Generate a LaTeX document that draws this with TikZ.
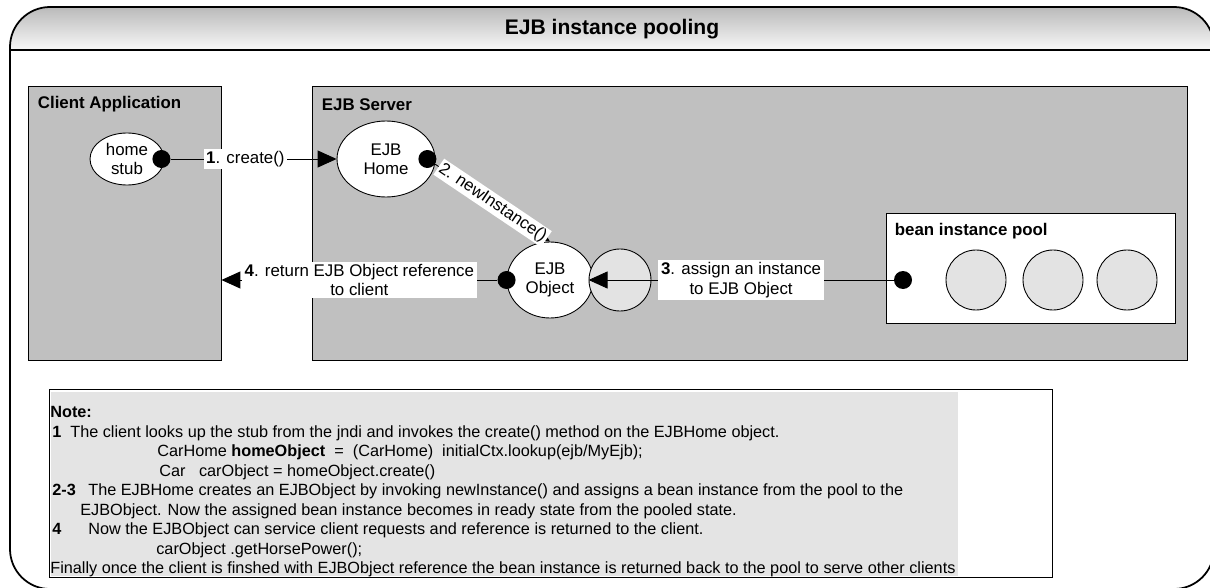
\documentclass[tikz,border=0pt]{standalone}
\usepackage{fontspec}
\setmainfont{Liberation Sans}
\usetikzlibrary{positioning, arrows.meta, shapes.geometric, fit}
\definecolor{servergray}{HTML}{C0C0C0}
\definecolor{beangray}{HTML}{E3E3E3}
\definecolor{notegray}{HTML}{E4E4E4}
\newcommand{\lblfont}{\fontsize{9.6}{11}\selectfont}
\newcommand{\notefont}{\fontsize{9.25}{11}\selectfont}

\begin{document}
\begin{tikzpicture}[x=0.02cm, y=-0.02cm,
    box/.style={draw, line width=0.5pt, inner sep=0pt},
    hdr/.style={font=\lblfont\bfseries, inner sep=0pt, anchor=west},
    bean/.style={ellipse, draw, fill=white, line width=0.5pt, align=center, inner sep=0pt, font=\lblfont},
    inst/.style={circle, draw, fill=beangray, line width=0.5pt, minimum size=1.2cm, inner sep=0pt},
    dot/.style={circle, fill=black, minimum size=0.36cm, inner sep=0pt},
    arr/.style={-{Triangle[length=0.38cm, width=0.34cm]}, line width=0.5pt},
    lbl/.style={fill=white, inner sep=1.5pt, align=center, font=\lblfont},
    note/.style={anchor=base west, inner sep=0pt, font=\notefont}
]
\useasboundingbox (0,0) rectangle (1210,588);

% Frame
\begin{scope}
  \clip[rounded corners=0.8cm] (10,7) rectangle (1214,589);
  \shade[top color=black!27, bottom color=black!3] (10,7) rectangle (1214,50);
\end{scope}
\draw[line width=1pt, rounded corners=0.8cm] (10,7) rectangle (1214,589);
\draw[line width=1.3pt] (10,50) -- (1214,50);
\node[font=\fontsize{12}{14}\selectfont\bfseries] (title) at (612,29) {EJB instance pooling};

% Client
\node[box, fill=servergray, fit={(28,86) (221,360)}] (client) {};
\node[hdr] (clienthdr) at ([xshift=0.2cm, yshift=-0.38cm]client.north west) {Client Application};
\node[bean, minimum width=1.48cm, minimum height=1.04cm] (stub) at (127,159) {home\\stub};
\node[dot] (stubdot) at ([xshift=-0.06cm]stub.east) {};

% EJB Server
\node[box, fill=servergray, fit={(312,86) (1187,360)}] (server) {};
\node[hdr] (serverhdr) at ([xshift=0.2cm, yshift=-0.38cm]server.north west) {EJB Server};
\node[bean, minimum width=1.96cm, minimum height=1.52cm] (home) at (386,159) {EJB\\Home};
\node[dot] (homedot) at ([xshift=-0.16cm]home.east) {};
\node[bean, minimum width=1.72cm, minimum height=1.52cm] (obj) at (550,280) {EJB\\Object};
\node[dot] (objdot) at (obj.west) {};
\node[inst, minimum size=1.24cm] (assigned) at (620,280) {};

% Pool
\node[box, fill=white, fit={(886,213) (1175,323)}] (pool) {};
\node[hdr] (poolhdr) at ([xshift=0.18cm, yshift=-0.38cm]pool.north west) {bean instance pool};
\node[dot] (pooldot) at (903,280) {};
\node[inst] (inst1) at (976,280) {};
\node[inst] (inst2) at (1053,280) {};
\node[inst] (inst3) at (1127,280) {};

% Arrows
\draw[arr] (stubdot) -- node[lbl, pos=0.45] {\textbf{1}. create()} (home);
\draw[arr] (homedot) -- node[lbl, sloped, inner sep=1pt] {2. newInstance()} (obj.north);
\draw[arr] (pooldot) -- node[lbl] {\textbf{3}. assign an instance\\to EJB Object} (assigned.west);
\draw[arr] (objdot) -- node[lbl] {\textbf{4}. return EJB Object reference\\to client} (objdot -| client.east);

% Note
\node[box, fill=white, fit={(49,389) (1052,577)}] (notebox) {};
\node[fill=notegray, inner sep=0pt, fit={(51,392) (958,576)}] (notebg) {};
\node[note, font=\notefont\bfseries] (n0) at (50,417.5) {Note:};
\node[note, font=\notefont\bfseries] (k1) at (52,437) {1};
\node[note] (n1) at (70,437) {The client looks up the stub from the jndi and invokes the create() method on the EJBHome object.};
\node[note] (n2) at (157,456.5) {CarHome \textbf{homeObject}\ \ =\ \ (CarHome)\ \ initialCtx.lookup(ejb/MyEjb);};
\node[note] (n3) at (159,476) {Car\ \ \ carObject = homeObject.create()};
\node[note, font=\notefont\bfseries] (k2) at (52,495.5) {2-3};
\node[note] (n4) at (88,495.5) {The EJBHome creates an EJBObject by invoking newInstance() and assigns a bean instance from the pool to the};
\node[note] (n5) at (80,515) {EJBObject. Now the assigned bean instance becomes in ready state from the pooled state.};
\node[note, font=\notefont\bfseries] (k3) at (52,534.5) {4};
\node[note] (n6) at (88,534.5) {Now the EJBObject can service client requests and reference is returned to the client.};
\node[note] (n7) at (156,554) {carObject .getHorsePower();};
\node[note] (n8) at (50,573.5) {Finally once the client is finshed with EJBObject reference the bean instance is returned back to the pool to serve other clients};

\end{tikzpicture}
\end{document}
